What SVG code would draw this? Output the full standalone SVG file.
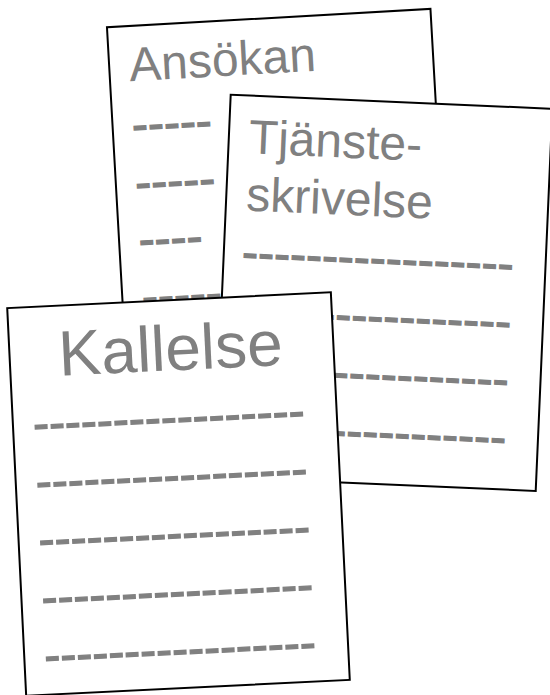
<svg xmlns="http://www.w3.org/2000/svg" width="550" height="695" viewBox="0 0 550 695">
  <style>
    .page { fill: #ffffff; stroke: #000000; stroke-width: 2; }
    .t { font-family: "Liberation Sans", Arial, sans-serif; fill: #808080; font-size: 48px; }
    .big { font-size: 64px; }
    .d { stroke: #808080; stroke-width: 1.3; }
  </style>
  <rect x="0" y="0" width="550" height="695" fill="#ffffff"/>
  <g id="ansokan" transform="translate(279.7,211.8) rotate(-3.25)">
    <rect class="page" x="-162" y="-194" width="324" height="388"/>
    <text class="t" x="-142" y="-138.8">Ansökan</text>
    <text class="t d" x="-142.7" y="-79">-----</text>
    <text class="t d" x="-142.7" y="-21">-----</text>
    <text class="t d" x="-142.6" y="36">----</text>
    <text class="t d" x="-142.5" y="93.3">-----</text>
  </g>
  <g id="tjansteskrivelse" transform="translate(383.2,292.85) rotate(2.5)">
    <rect class="page" x="-161" y="-191.3" width="322" height="382.6"/>
    <text class="t" x="-141" y="-133.5">Tjänste-</text>
    <text class="t" x="-141" y="-76.3">skrivelse</text>
    <text class="t d" x="-142.6" y="-18.4">-----------------</text>
    <text class="t d" x="-142.6" y="39.5">-----------------</text>
    <text class="t d" x="-142.6" y="97.4">-----------------</text>
    <text class="t d" x="-142.6" y="155.3">-----------------</text>
  </g>
  <g id="kallelse" transform="translate(178.5,494) rotate(-2.8)">
    <rect class="page" x="-162" y="-194" width="324" height="388"/>
    <text class="t big" x="-113" y="-123.8">Kallelse</text>
    <text class="t d" x="-142" y="-61">-----------------</text>
    <text class="t d" x="-142" y="-3">-----------------</text>
    <text class="t d" x="-142" y="55">-----------------</text>
    <text class="t d" x="-142" y="113">-----------------</text>
    <text class="t d" x="-142" y="171">-----------------</text>
  </g>
</svg>
